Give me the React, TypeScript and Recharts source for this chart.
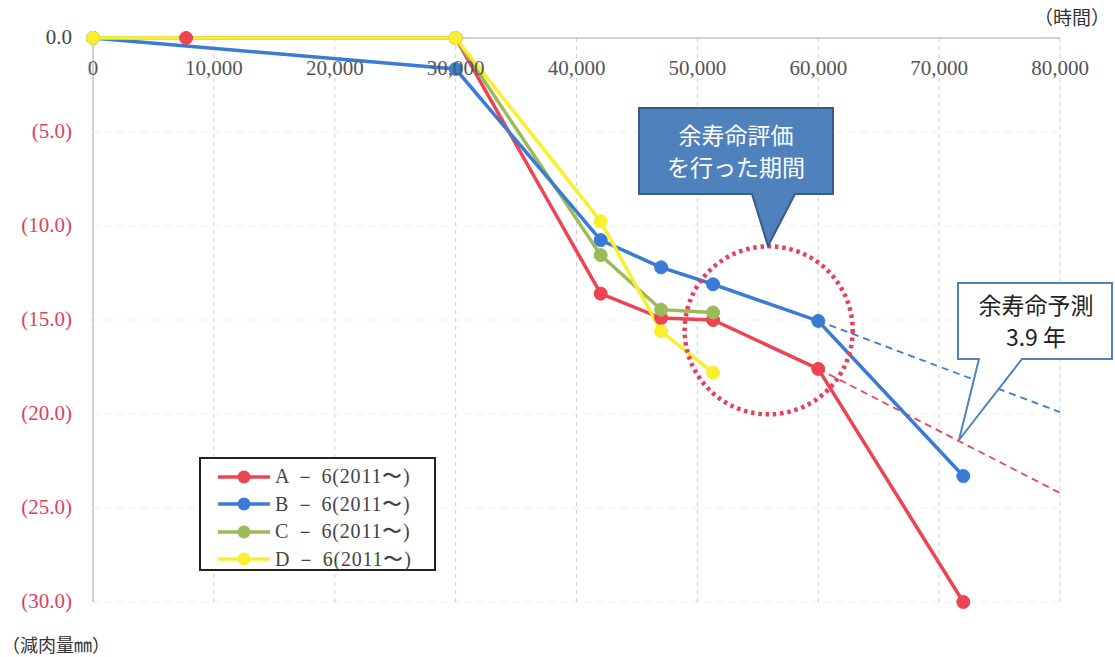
import React from 'react';
import { LineChart, Line, XAxis, YAxis, CartesianGrid, ReferenceLine, ReferenceDot } from 'recharts';

// 運転時間 (h) と 減肉量 (mm, 負値)
const xTicks = [0, 10000, 20000, 30000, 40000, 50000, 60000, 70000, 80000];
const yTicks = [0, -5, -10, -15, -20, -25, -30];

const seriesNames = ['A － 6(2011〜)', 'B － 6(2011〜)', 'C － 6(2011〜)', 'D － 6(2011〜)'];
const seriesColors = ['#ec4452', '#3a7bd5', '#9bbb59', '#f9ef2e'];

const hoursA = [7700, 30000, 42000, 47000, 51300, 60000, 72000];
const lossA = [0, 0, -13.6, -14.9, -15.0, -17.6, -30.0];
const hoursB = [0, 30000, 42000, 47000, 51300, 60000, 72000];
const lossB = [0, -1.65, -10.75, -12.2, -13.1, -15.05, -23.3];
const hoursC = [0, 30000, 42000, 47000, 51300];
const lossC = [0, 0, -11.55, -14.45, -14.6];
const hoursD = [0, 30000, 42000, 47000, 51300];
const lossD = [0, 0, -9.75, -15.6, -17.8];

// 余寿命予測の延長線
const trendHours = [60000, 80000];
const trendA = [-17.6, -24.2];
const trendB = [-15.05, -19.9];

// 余寿命評価を行った期間 (円の中心)
const evalCenter = { hour: 55900, loss: -15.55 };

const toPoints = (xs: number[], ys: number[]) => xs.map((x, i) => ({ x, y: ys[i] }));

const dataA = toPoints(hoursA, lossA);
const dataB = toPoints(hoursB, lossB);
const dataC = toPoints(hoursC, lossC);
const dataD = toPoints(hoursD, lossD);
const dataTrendA = toPoints(trendHours, trendA);
const dataTrendB = toPoints(trendHours, trendB);

const serif = "'Liberation Serif', 'DejaVu Serif', serif";
const jp = "'Noto Sans CJK JP', 'Noto Sans', sans-serif";

const XTick = (props: any) => {
  const { x, payload } = props;
  return (
    <text x={x} y={38} dy={37} textAnchor="middle" style={{ fontFamily: serif }} fontSize={21} fill="#555">
      {Number(payload.value).toLocaleString('en-US')}
    </text>
  );
};

const YTick = (props: any) => {
  const { x, y, payload } = props;
  const v = payload.value;
  const label = v === 0 ? '0.0' : `(${Math.abs(v).toFixed(1)})`;
  return (
    <text x={x} y={y} dy={6} textAnchor="end" style={{ fontFamily: serif }} fontSize={21} fill={v === 0 ? '#444' : '#e23e5e'}>
      {label}
    </text>
  );
};

const lineProps = (color: string) => ({
  type: 'linear' as const,
  dataKey: 'y',
  stroke: color,
  strokeWidth: 3.5,
  dot: { r: 6.5, fill: color, stroke: color, strokeWidth: 1 },
  activeDot: false as const,
  isAnimationActive: false,
});

export default function App() {
  return (
    <div style={{ position: 'absolute', left: 0, top: 0, width: 1115, height: 657, background: '#fff' }}>
      <LineChart width={1115} height={657} margin={{ top: 8, right: 55, bottom: 55, left: 0 }}>
        <CartesianGrid vertical={false} stroke="#ececec" strokeDasharray="6 6" />
        <CartesianGrid horizontal={false} stroke="#cfcfcf" strokeDasharray="4 4" />
        <XAxis
          type="number"
          dataKey="x"
          orientation="top"
          height={30}
          domain={[0, 80000]}
          ticks={xTicks}
          interval={0}
          axisLine={false}
          tickLine={false}
          tick={<XTick />}
        />
        <YAxis
          type="number"
          width={93}
          domain={[-30, 0]}
          ticks={yTicks}
          interval={0}
          axisLine={false}
          tickLine={false}
          tickSize={0}
          tickMargin={21}
          tick={<YTick />}
        />
        <ReferenceLine y={0} stroke="#c4c4c4" strokeWidth={1.5} />
        <ReferenceLine x={0} stroke="#c4c4c4" strokeWidth={1.5} />

        <Line data={dataTrendB} type="linear" dataKey="y" stroke="#3a7bd5" strokeWidth={1.8} strokeDasharray="7 5" dot={false} activeDot={false} isAnimationActive={false} />
        <Line data={dataTrendA} type="linear" dataKey="y" stroke="#ec4452" strokeWidth={1.8} strokeDasharray="7 5" dot={false} activeDot={false} isAnimationActive={false} />

        <Line data={dataA} name={seriesNames[0]} {...lineProps(seriesColors[0])} />
        <Line data={dataC} name={seriesNames[2]} {...lineProps(seriesColors[2])} />
        <Line data={dataB} name={seriesNames[1]} {...lineProps(seriesColors[1])} />
        <Line data={dataD} name={seriesNames[3]} {...lineProps(seriesColors[3])} />

        <ReferenceDot
          x={evalCenter.hour}
          y={evalCenter.loss}
          r={84}
          fill="none"
          stroke="#e8405a"
          strokeWidth={4.5}
          strokeDasharray="3.5 3.8"
          ifOverflow="visible"
        />
      </LineChart>

      {/* callouts and axis captions */}
      <svg width={1115} height={657} style={{ position: 'absolute', left: 0, top: 0, pointerEvents: 'none' }}>
        <path d="M639,108 H833 V194 H795 L768,246 L752,194 H639 Z" fill="#4f81bd" stroke="#385d8a" strokeWidth={2} />
        <text x={736} y={144} textAnchor="middle" style={{ fontFamily: jp }} fontSize={23} fill="#fff">余寿命評価</text>
        <text x={736} y={176} textAnchor="middle" style={{ fontFamily: jp }} fontSize={23} fill="#fff">を行った期間</text>

        <path d="M958,283 H1112 V359 H1022 L959,440 L979,359 H958 Z" fill="#fff" stroke="#4f81bd" strokeWidth={2} />
        <text x={1036} y={314} textAnchor="middle" style={{ fontFamily: jp }} fontSize={23} fill="#222">余寿命予測</text>
        <text x={1036} y={346} textAnchor="middle" style={{ fontFamily: jp }} fontSize={23} fill="#222">3.9 年</text>

        <text x={1110} y={25} textAnchor="end" style={{ fontFamily: jp }} fontSize={19} fill="#333">（時間）</text>
        <text x={2} y={652} style={{ fontFamily: jp }} fontSize={18} fill="#333">（減肉量㎜）</text>
      </svg>

      {/* legend */}
      <div
        style={{
          position: 'absolute',
          left: 199,
          top: 457,
          width: 233,
          height: 106,
          border: '2px solid #222',
          background: '#fff',
          paddingTop: 4,
        }}
      >
        {seriesNames.map((name, i) => (
          <div key={name} style={{ display: 'flex', alignItems: 'center', height: 27.5 }}>
            <svg width={74} height={20} style={{ flex: 'none' }}>
              <line x1={17} y1={10} x2={69} y2={10} stroke={seriesColors[i]} strokeWidth={3.5} />
              <circle cx={43} cy={10} r={6.5} fill={seriesColors[i]} />
            </svg>
            <span style={{ fontFamily: serif, fontSize: 20, letterSpacing: 0.8, color: '#444', whiteSpace: 'nowrap' }}>{name}</span>
          </div>
        ))}
      </div>
    </div>
  );
}
